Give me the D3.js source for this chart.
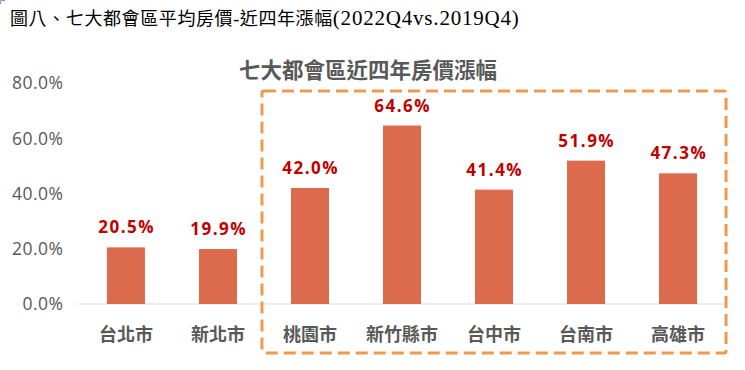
<!DOCTYPE html>
<html>
<head>
<meta charset="utf-8">
<script src="https://cdn.jsdelivr.net/npm/d3@7"></script>
<style>
  body { margin: 0; background: #fff; }
  svg { display: block; }
</style>
</head>
<body>
<svg id="chart" width="745" height="370"></svg>
<script>
const cities = ['台北市', '新北市', '桃園市', '新竹縣市', '台中市', '台南市', '高雄市'];
const growth = [20.5, 19.9, 42.0, 64.6, 41.4, 51.9, 47.3];
const yTicks = [0, 20, 40, 60, 80];
const highlighted = ['桃園市', '新竹縣市', '台中市', '台南市', '高雄市'];

const svg = d3.select('#chart');
const sans = "'Noto Sans CJK TC', 'Noto Sans', sans-serif";
const latin = "'Open Sans', 'Noto Sans', sans-serif";

// page caption (serif look in the original document)
svg.append('path')
  .attr('d', 'M0.5,4 V0.5 H5')
  .attr('fill', 'none')
  .attr('stroke', '#999');

const caption = svg.append('text')
  .attr('x', 10)
  .attr('y', 25)
  .attr('font-family', "'Liberation Serif', 'Noto Sans CJK TC', serif")
  .attr('fill', '#000');
caption.append('tspan')
  .attr('font-size', 18)
  .attr('letter-spacing', 0.6)
  .text('圖八、七大都會區平均房價-近四年漲幅');
caption.append('tspan')
  .attr('font-size', 21)
  .attr('letter-spacing', 0.8)
  .text('(2022Q4vs.2019Q4)');

const x = d3.scaleBand()
  .domain(cities)
  .range([80, 724])
  .paddingInner(0.587)
  .paddingOuter(0.293);

const y = d3.scaleLinear()
  .domain([0, 80])
  .range([304, 83]);

// chart title
svg.append('text')
  .attr('x', 368)
  .attr('y', 78)
  .attr('text-anchor', 'middle')
  .attr('font-family', sans)
  .attr('font-size', 21.5)
  .attr('font-weight', 'bold')
  .attr('fill', '#595959')
  .text('七大都會區近四年房價漲幅');

// y axis labels
svg.append('g')
  .selectAll('text')
  .data(yTicks)
  .enter().append('text')
    .attr('x', 63.5)
    .attr('y', d => y(d))
    .attr('dy', '0.36em')
    .attr('text-anchor', 'end')
    .attr('font-family', latin)
    .attr('font-size', 17.5)
    .attr('letter-spacing', 0.5)
    .attr('fill', '#595959')
    .text(d => d.toFixed(1) + '%');

// baseline
svg.append('line')
  .attr('x1', 79).attr('x2', 725)
  .attr('y1', y(0)).attr('y2', y(0))
  .attr('stroke', '#d9d9d9')
  .attr('stroke-width', 1);

const data = cities.map((c, i) => ({ city: c, value: growth[i] }));

svg.append('g')
  .selectAll('rect')
  .data(data)
  .enter().append('rect')
    .attr('x', d => x(d.city))
    .attr('y', d => y(d.value))
    .attr('width', x.bandwidth())
    .attr('height', d => y(0) - y(d.value))
    .attr('fill', '#DC6B4D');

svg.append('g')
  .selectAll('text')
  .data(data)
  .enter().append('text')
    .attr('x', d => x(d.city) + x.bandwidth() / 2 + 0.75)
    .attr('y', d => y(d.value) - 14)
    .attr('text-anchor', 'middle')
    .attr('font-family', latin)
    .attr('font-size', 17)
    .attr('font-weight', 'bold')
    .attr('letter-spacing', 1.5)
    .attr('fill', '#C00000')
    .text(d => d.value.toFixed(1) + '%');

// category labels
svg.append('g')
  .selectAll('text')
  .data(cities)
  .enter().append('text')
    .attr('x', d => x(d) + x.bandwidth() / 2)
    .attr('y', 341)
    .attr('text-anchor', 'middle')
    .attr('font-family', sans)
    .attr('font-size', 18)
    .attr('font-weight', 'bold')
    .attr('fill', '#595959')
    .text(d => d);

// dashed box around highlighted cities
const first = highlighted[0], last = highlighted[highlighted.length - 1];
const boxLeft = x(first) - 29;
const boxRight = x(last) + x.bandwidth() + 29;
svg.append('rect')
  .attr('x', boxLeft)
  .attr('y', 91)
  .attr('width', boxRight - boxLeft)
  .attr('height', 262)
  .attr('rx', 2)
  .attr('fill', 'none')
  .attr('stroke', '#EE9A4E')
  .attr('stroke-width', 3)
  .attr('stroke-dasharray', '12,6');
</script>
</body>
</html>
